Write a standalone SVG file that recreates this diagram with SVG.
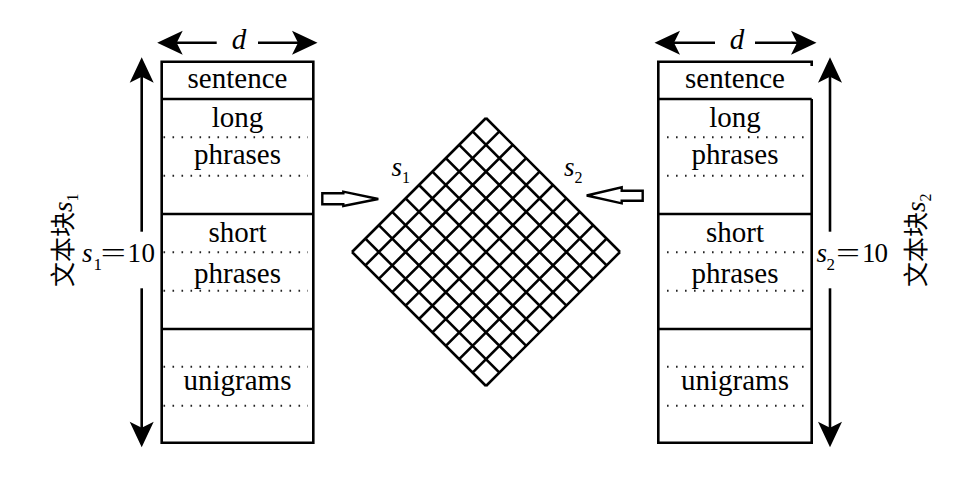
<svg xmlns="http://www.w3.org/2000/svg" width="972" height="482" viewBox="0 0 972 482">
<style>
.bx{fill:none;stroke:#000;stroke-width:2.6}
.dt{fill:none;stroke:#222;stroke-width:2;stroke-dasharray:1.6 7.4}
.ar{fill:none;stroke:#000;stroke-width:2.6}
.lb{font-family:'Liberation Serif','Times New Roman',Times,'Nimbus Roman','DejaVu Serif',serif;font-size:29px;fill:#000;text-anchor:middle}
.it{font-family:'Liberation Serif','Times New Roman',Times,'Nimbus Roman','DejaVu Serif',serif;font-style:italic;fill:#000}
.rm{font-family:'Liberation Serif','Times New Roman',Times,'Nimbus Roman','DejaVu Serif',serif;fill:#000}
.cj{font-family:'Noto Sans CJK SC',sans-serif;font-size:25px;fill:#000}
.grid{fill:none;stroke:#000;stroke-width:2.6}
.blk{fill:#fff;stroke:#000;stroke-width:2.4;stroke-linejoin:miter}
</style>
<defs>
<marker id="ah" markerUnits="userSpaceOnUse" markerWidth="30" markerHeight="30" viewBox="-10 -10 20 20" refX="0" refY="0" orient="auto" overflow="visible">
<path d="M9,0 L-8,-8 L-4,0 L-8,8 Z" fill="#000"/>
</marker>
</defs>
<rect width="972" height="482" fill="#fff"/>

<g id="connectors">
  <line class="ar" x1="216.7" y1="42.7" x2="170.7" y2="42.7" marker-end="url(#ah)"/>
  <line class="ar" x1="258" y1="42.7" x2="304" y2="42.7" marker-end="url(#ah)"/>
  <line class="ar" x1="715" y1="42.7" x2="668" y2="42.7" marker-end="url(#ah)"/>
  <line class="ar" x1="755" y1="42.7" x2="803" y2="42.7" marker-end="url(#ah)"/>
  <line class="ar" x1="141.7" y1="231.7" x2="141.7" y2="70.7" marker-end="url(#ah)"/>
  <line class="ar" x1="141.7" y1="288.3" x2="141.7" y2="433.7" marker-end="url(#ah)"/>
  <line class="ar" x1="830" y1="231.7" x2="830" y2="70.7" marker-end="url(#ah)"/>
  <line class="ar" x1="830" y1="288.3" x2="830" y2="433.7" marker-end="url(#ah)"/>
  <path class="blk" d="M322.3,193.3 H343.3 V191.7 L378.3,199 L343.3,206 V204.3 H322.3 Z"/>
  <path class="blk" d="M642.7,190.7 H621.7 V187.3 L586.7,195.5 L621.7,203.3 V200.7 H642.7 Z"/>
</g>

<g id="d-left"><text class="it" x="239" y="49" font-size="29" text-anchor="middle">d</text></g>
<g id="d-right"><text class="it" x="737" y="49" font-size="29" text-anchor="middle">d</text></g>

<g id="block-left">
  <path class="bx" d="M161.7,61.7 H313.3 V442.7 H161.7 Z"/>
  <path class="bx" d="M161.7,99 H313.3 M161.7,214 H313.3 M161.7,329 H313.3"/>
  <path class="dt" d="M163.5,137.3 H308 M163.5,175.7 H308 M163.5,252.3 H308 M163.5,290.7 H308 M163.5,366.7 H308 M163.5,405.7 H308"/>
  <text class="lb" x="237.5" y="88.3">sentence</text>
  <text class="lb" x="237.5" y="127.3">long</text>
  <text class="lb" x="237.5" y="164.3">phrases</text>
  <text class="lb" x="237.5" y="241.7">short</text>
  <text class="lb" x="237.5" y="283.3">phrases</text>
  <text class="lb" x="237.5" y="390">unigrams</text>
</g>

<g id="block-right">
  <path class="bx" d="M811.7,66 V61.7 H658.3 V442.7 H811.7 V99"/>
  <path class="bx" d="M658.3,99 H811.7 M658.3,214 H811.7 M658.3,329 H811.7"/>
  <path class="dt" d="M667,137.3 H806 M667,175.7 H806 M667,252.3 H806 M667,290.7 H806 M667,366.7 H806 M667,405.7 H806"/>
  <text class="lb" x="735" y="88.3">sentence</text>
  <text class="lb" x="735" y="127.3">long</text>
  <text class="lb" x="735" y="164.3">phrases</text>
  <text class="lb" x="735" y="241.7">short</text>
  <text class="lb" x="735" y="283.3">phrases</text>
  <text class="lb" x="735" y="390">unigrams</text>
</g>

<g id="label-s1-10">
  <text class="it" x="82" y="261.7" font-size="27">s</text>
  <text class="rm" x="93.5" y="270" font-size="17">1</text>
  <text class="rm" x="100.5" y="261.7" font-size="27" textLength="25.5" lengthAdjust="spacingAndGlyphs">=</text>
  <text class="rm" x="127.5" y="261.7" font-size="27" textLength="27.5">10</text>
</g>
<g id="label-s2-10">
  <text class="it" x="816.5" y="261.7" font-size="27">s</text>
  <text class="rm" x="826.5" y="270" font-size="17">2</text>
  <text class="rm" x="836" y="261.7" font-size="27" textLength="24" lengthAdjust="spacingAndGlyphs">=</text>
  <text class="rm" x="862" y="261.7" font-size="27" textLength="26">10</text>
</g>

<g id="vlabel-left">
  <text transform="translate(72,287) rotate(-90)"><tspan class="cj">文本块</tspan><tspan class="it" font-size="27">s</tspan><tspan class="rm" font-size="16" dy="6">1</tspan></text>
</g>
<g id="vlabel-right">
  <text transform="translate(925,287) rotate(-90)"><tspan class="cj">文本块</tspan><tspan class="it" font-size="27">s</tspan><tspan class="rm" font-size="16" dy="6">2</tspan></text>
</g>

<g id="matrix">
  <g transform="translate(486,252) rotate(45)">
    <path class="grid" d="M-94.75,-94.75 V94.75 M-75.8,-94.75 V94.75 M-56.85,-94.75 V94.75 M-37.9,-94.75 V94.75 M-18.95,-94.75 V94.75 M0,-94.75 V94.75 M18.95,-94.75 V94.75 M37.9,-94.75 V94.75 M56.85,-94.75 V94.75 M75.8,-94.75 V94.75 M94.75,-94.75 V94.75 M-94.75,-94.75 H94.75 M-94.75,-75.8 H94.75 M-94.75,-56.85 H94.75 M-94.75,-37.9 H94.75 M-94.75,-18.95 H94.75 M-94.75,0 H94.75 M-94.75,18.95 H94.75 M-94.75,37.9 H94.75 M-94.75,56.85 H94.75 M-94.75,75.8 H94.75 M-94.75,94.75 H94.75"/>
  </g>
  <text class="it" x="391.5" y="175.5" font-size="27">s</text>
  <text class="rm" x="402" y="183" font-size="16">1</text>
  <text class="it" x="564" y="175.5" font-size="27">s</text>
  <text class="rm" x="574.5" y="183" font-size="16">2</text>
</g>
</svg>
